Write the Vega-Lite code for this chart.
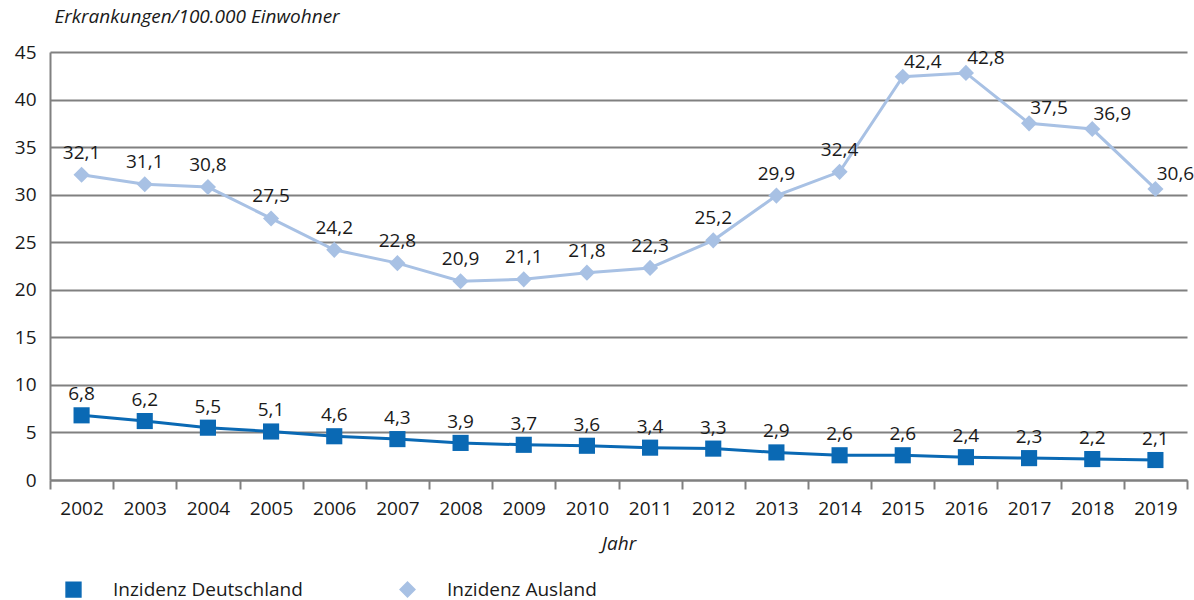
{
  "$schema": "https://vega.github.io/schema/vega-lite/v6.json",
  "width": 1137,
  "height": 428,
  "autosize": "none",
  "padding": {"left": 50, "top": 52, "right": 7, "bottom": 120},
  "background": "white",
  "config": {
    "locale": {"number": {"decimal": ",", "thousands": ".", "grouping": [3], "currency": ["", " €"]}},
    "font": "Open Sans",
    "view": {"stroke": null},
    "axis": {"labelFont": "Open Sans", "labelFontSize": 19, "labelFontWeight": 500, "labelColor": "#1a1a1a", "titleFont": "Open Sans", "titleFontSize": 19, "titleColor": "#1a1a1a", "titleFontStyle": "italic", "titleFontWeight": 500},
    "legend": {"labelFont": "Open Sans", "labelFontSize": 19, "labelFontWeight": 500, "labelColor": "#1a1a1a"}
  },
  "data": {"values": [
    {"year": "2002", "series": "Inzidenz Deutschland", "value": 6.8},
    {"year": "2003", "series": "Inzidenz Deutschland", "value": 6.2},
    {"year": "2004", "series": "Inzidenz Deutschland", "value": 5.5},
    {"year": "2005", "series": "Inzidenz Deutschland", "value": 5.1},
    {"year": "2006", "series": "Inzidenz Deutschland", "value": 4.6},
    {"year": "2007", "series": "Inzidenz Deutschland", "value": 4.3},
    {"year": "2008", "series": "Inzidenz Deutschland", "value": 3.9},
    {"year": "2009", "series": "Inzidenz Deutschland", "value": 3.7},
    {"year": "2010", "series": "Inzidenz Deutschland", "value": 3.6},
    {"year": "2011", "series": "Inzidenz Deutschland", "value": 3.4},
    {"year": "2012", "series": "Inzidenz Deutschland", "value": 3.3},
    {"year": "2013", "series": "Inzidenz Deutschland", "value": 2.9},
    {"year": "2014", "series": "Inzidenz Deutschland", "value": 2.6},
    {"year": "2015", "series": "Inzidenz Deutschland", "value": 2.6},
    {"year": "2016", "series": "Inzidenz Deutschland", "value": 2.4},
    {"year": "2017", "series": "Inzidenz Deutschland", "value": 2.3},
    {"year": "2018", "series": "Inzidenz Deutschland", "value": 2.2},
    {"year": "2019", "series": "Inzidenz Deutschland", "value": 2.1},
    {"year": "2002", "series": "Inzidenz Ausland", "value": 32.1},
    {"year": "2003", "series": "Inzidenz Ausland", "value": 31.1},
    {"year": "2004", "series": "Inzidenz Ausland", "value": 30.8},
    {"year": "2005", "series": "Inzidenz Ausland", "value": 27.5},
    {"year": "2006", "series": "Inzidenz Ausland", "value": 24.2},
    {"year": "2007", "series": "Inzidenz Ausland", "value": 22.8},
    {"year": "2008", "series": "Inzidenz Ausland", "value": 20.9},
    {"year": "2009", "series": "Inzidenz Ausland", "value": 21.1},
    {"year": "2010", "series": "Inzidenz Ausland", "value": 21.8},
    {"year": "2011", "series": "Inzidenz Ausland", "value": 22.3},
    {"year": "2012", "series": "Inzidenz Ausland", "value": 25.2},
    {"year": "2013", "series": "Inzidenz Ausland", "value": 29.9},
    {"year": "2014", "series": "Inzidenz Ausland", "value": 32.4},
    {"year": "2015", "series": "Inzidenz Ausland", "value": 42.4},
    {"year": "2016", "series": "Inzidenz Ausland", "value": 42.8},
    {"year": "2017", "series": "Inzidenz Ausland", "value": 37.5},
    {"year": "2018", "series": "Inzidenz Ausland", "value": 36.9},
    {"year": "2019", "series": "Inzidenz Ausland", "value": 30.6}
  ]},
  "encoding": {
    "x": {
      "field": "year", "type": "ordinal",
      "scale": {"type": "band", "paddingInner": 0, "paddingOuter": 0},
      "axis": {"title": "Jahr", "labelAngle": 0, "tickBand": "extent", "domainColor": "#808080", "domainWidth": 2, "tickColor": "#808080", "tickWidth": 2, "tickSize": 9, "labelPadding": 10, "titlePadding": 16}
    },
    "y": {
      "field": "value", "type": "quantitative",
      "scale": {"domain": [0, 45]},
      "axis": {"title": "Erkrankungen/100.000 Einwohner", "values": [0,5,10,15,20,25,30,35,40,45], "grid": true, "gridColor": "#808080", "gridWidth": 2, "domainColor": "#808080", "domainWidth": 2, "ticks": false, "labelPadding": 14, "titleAngle": 0, "titleAlign": "left", "titleBaseline": "middle", "titleX": 4, "titleY": -36}
    },
    "color": {
      "field": "series", "type": "nominal",
      "scale": {"domain": ["Inzidenz Deutschland", "Inzidenz Ausland"], "range": ["#0a69b4", "#a8c1e4"]},
      "legend": {
        "title": null, "orient": "none", "legendX": 14, "legendY": 528, "direction": "horizontal", "columns": 2, "columnPadding": 94, "symbolSize": 220, "labelOffset": 30, "labelLimit": 400
      }
    }
  },
  "layer": [
    {
      "mark": {"type": "line", "strokeWidth": 3}
    },
    {
      "mark": {"type": "point", "filled": true, "opacity": 1, "size": 260},
      "encoding": {
        "shape": {"field": "series", "type": "nominal", "scale": {"domain": ["Inzidenz Deutschland", "Inzidenz Ausland"], "range": ["square", "diamond"]}, "legend": null}
      }
    },
    {
      "transform": [{"filter": "datum.series === 'Inzidenz Deutschland'"}],
      "mark": {"type": "text", "dy": -21, "fontSize": 19, "fontWeight": 500, "color": "#1a1a1a", "font": "Open Sans"},
      "encoding": {"text": {"field": "value", "type": "quantitative", "format": ".1f"}, "color": {"value": "#1a1a1a"}}
    },
    {
      "transform": [{"filter": "datum.series === 'Inzidenz Ausland' && +datum.year <= 2014"}],
      "mark": {"type": "text", "dy": -22, "fontSize": 19, "fontWeight": 500, "color": "#1a1a1a", "font": "Open Sans"},
      "encoding": {"text": {"field": "value", "type": "quantitative", "format": ".1f"}, "color": {"value": "#1a1a1a"}}
    },
    {
      "transform": [{"filter": "datum.series === 'Inzidenz Ausland' && +datum.year >= 2015"}],
      "mark": {"type": "text", "dx": 20, "dy": -15, "fontSize": 19, "fontWeight": 500, "color": "#1a1a1a", "font": "Open Sans"},
      "encoding": {"text": {"field": "value", "type": "quantitative", "format": ".1f"}, "color": {"value": "#1a1a1a"}}
    }
  ]
}
